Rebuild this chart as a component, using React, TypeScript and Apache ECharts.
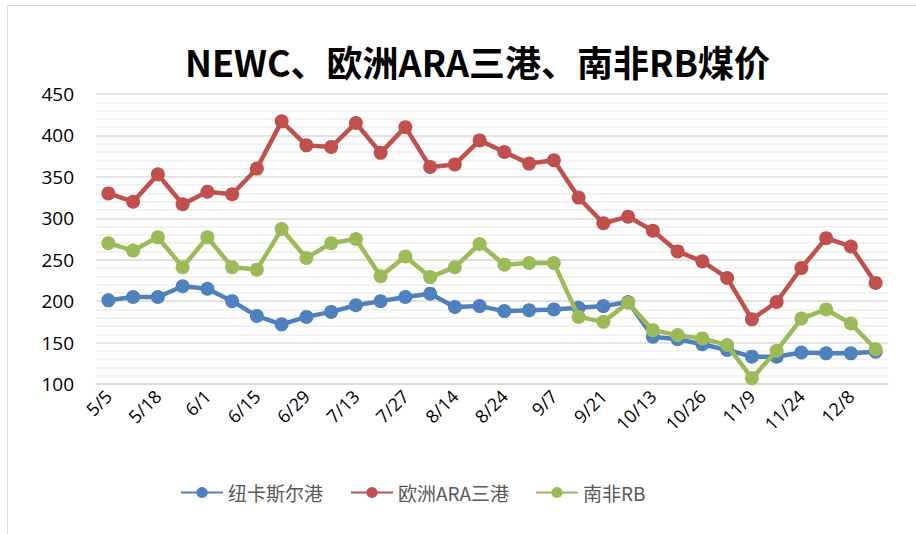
import React, { useEffect, useRef } from "react";
import * as echarts from "echarts";

const categories = [
  "5/5", "5/11", "5/18", "5/25", "6/1", "6/8", "6/15", "6/22", "6/29", "7/6",
  "7/13", "7/20", "7/27", "8/7", "8/14", "8/19", "8/24", "8/31", "9/7", "9/14",
  "9/21", "9/28", "10/13", "10/19", "10/26", "11/2", "11/9", "11/16", "11/24", "12/1",
  "12/8", "12/15",
];

const newcastle = [
  201, 205, 205, 218, 215, 200, 182, 172, 181, 187,
  195, 200, 205, 209, 193, 194, 188, 189, 190, 192,
  194, 199, 157, 154, 148, 141, 133, 133, 138, 137,
  137, 139,
];

const ara = [
  330, 320, 353, 317, 332, 329, 360, 417, 388, 386,
  415, 379, 410, 362, 365, 394, 380, 366, 370, 325,
  294, 302, 285, 260, 248, 228, 178, 199, 240, 276,
  266, 222,
];

const rb = [
  270, 261, 277, 241, 277, 241, 238, 287, 252, 270,
  275, 230, 254, 229, 241, 269, 244, 246, 246, 181,
  175, 198, 165, 159, 155, 147, 107, 140, 179, 190,
  173, 142,
];

const seriesNames = ["纽卡斯尔港", "欧洲ARA三港", "南非RB"];
const colors = ["#4F81BD", "#C0504D", "#9BBB59"];
const titleText = "NEWC、欧洲ARA三港、南非RB煤价";

export default function App() {
  const ref = useRef<HTMLDivElement>(null);
  useEffect(() => {
    if (!ref.current) return;
    const chart = echarts.init(ref.current, undefined, { renderer: "svg" });
    const font = "'Noto Sans CJK SC', 'Open Sans', sans-serif";
    const datas = [newcastle, ara, rb];
    const legendLefts = [175, 345, 530];
    chart.setOption({
      animation: false,
      backgroundColor: "#ffffff",
      textStyle: { fontFamily: font },
      title: {
        text: titleText,
        left: 180,
        top: 38,
        textStyle: { fontSize: 36, fontWeight: "bold", color: "#000", fontFamily: font },
      },
      graphic: [
        {
          type: "rect",
          shape: { x: 7.5, y: 5.5, width: 930, height: 560 },
          style: { fill: "none", stroke: "#d9d9d9", lineWidth: 1 },
          silent: true,
        },
      ],
      legend: seriesNames.map((name, i) => ({
        bottom: 27,
        left: legendLefts[i],
        itemWidth: 42,
        itemHeight: 14,
        textStyle: { fontSize: 19, color: "#595959", fontFamily: font },
        data: [name],
      })),
      grid: { left: 96, right: 28, top: 94, bottom: 150, containLabel: false },
      xAxis: {
        type: "category",
        data: categories,
        boundaryGap: true,
        axisLine: { show: true, lineStyle: { color: "#d9d9d9", width: 1.5 } },
        axisTick: { show: false },
        axisLabel: {
          interval: 1,
          rotate: 45,
          fontSize: 18,
          color: "#000",
          margin: 9,
          fontFamily: "'Open Sans', sans-serif",
        },
      },
      yAxis: {
        type: "value",
        min: 100,
        max: 450,
        interval: 50,
        axisLine: { show: false },
        axisTick: { show: false },
        axisLabel: { fontSize: 19, color: "#000", margin: 22, fontFamily: "'Open Sans', sans-serif" },
        splitLine: { lineStyle: { color: "#d9d9d9", width: 1.5 } },
        minorTick: { show: false, splitNumber: 5 },
        minorSplitLine: { show: true, lineStyle: { color: "#eeeeee", width: 1.5 } },
      },
      series: seriesNames.map((name, i) => ({
        name,
        type: "line",
        data: datas[i],
        symbol: "circle",
        symbolSize: 14,
        color: colors[i],
        lineStyle: { width: 4.5, color: colors[i] },
        itemStyle: { color: colors[i] },
        z: 2 + i,
      })),
    });
    return () => chart.dispose();
  }, []);
  return (
    <div
      ref={ref}
      style={{ position: "fixed", left: 0, top: 0, width: 916, height: 534 }}
    />
  );
}
